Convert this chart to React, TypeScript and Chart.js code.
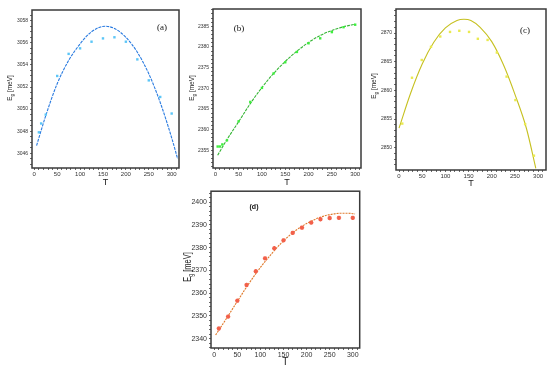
import React, { useEffect, useRef } from "react";
import { Chart, registerables } from "chart.js";

Chart.register(...registerables);

// ---- Data ----
const aT = [10, 15, 25, 50, 75, 100, 125, 150, 175, 200, 225, 250, 275, 300];
const aE = [3047.9, 3048.7, 3049.5, 3053.0, 3055.0, 3055.5, 3056.1, 3056.4, 3056.5, 3056.1, 3054.5, 3052.6, 3051.1, 3049.6];
const aFitT = [5, 25, 50, 75, 100, 125, 155, 175, 200, 225, 250, 275, 300, 313];
const aFitE = [3046.7, 3049.4, 3052.3, 3054.4, 3055.9, 3057.0, 3057.5, 3057.3, 3056.5, 3055.15, 3053.2, 3050.6, 3047.4, 3045.5];

const bT = [5, 10, 15, 25, 50, 75, 100, 125, 150, 175, 200, 225, 250, 275, 300];
const bE = [2355.9, 2355.9, 2356.4, 2357.4, 2362.0, 2366.7, 2370.1, 2373.6, 2376.3, 2378.8, 2380.9, 2382.1, 2383.6, 2384.8, 2385.4];
const bFitT = [5, 25, 50, 75, 100, 125, 150, 175, 200, 225, 250, 275, 300];
const bFitE = [2353.8, 2357.6, 2361.9, 2366.3, 2370.2, 2373.6, 2376.5, 2379.0, 2381.1, 2382.8, 2384.0, 2384.9, 2385.5];

const cT = [7, 28, 49, 69, 89, 110, 130, 151, 170, 191, 211, 232, 251, 272, 291];
const cE = [2854.2, 2862.2, 2865.3, 2867.6, 2869.4, 2870.2, 2870.4, 2870.2, 2869.0, 2868.8, 2866.6, 2862.4, 2858.3, 2854.1, 2848.6];
const cFitT = [0, 25, 50, 75, 100, 125, 140, 155, 175, 200, 225, 250, 275, 295];
const cFitE = [2853.4, 2859.5, 2864.6, 2868.4, 2870.9, 2872.2, 2872.4, 2872.2, 2871.0, 2868.5, 2864.5, 2859.3, 2853.3, 2846.4];

const dT = [10, 30, 50, 70, 90, 110, 130, 150, 170, 190, 210, 230, 250, 270, 300];
const dE = [2344.5, 2349.7, 2356.7, 2363.6, 2369.6, 2375.3, 2379.7, 2383.2, 2386.5, 2388.8, 2391.0, 2392.5, 2393.0, 2393.1, 2393.1];
const dFitT = [3, 25, 50, 75, 100, 125, 150, 175, 200, 225, 250, 275, 290, 305];
const dFitE = [2341.6, 2348.4, 2356.4, 2364.2, 2371.3, 2377.5, 2383.0, 2387.3, 2390.6, 2393.0, 2394.5, 2395.1, 2395.1, 2394.8];

const panelLabels = ["(a)", "(b)", "(c)", "(d)"];
const xTitle = "T";

type Panel = {
  label: string;
  T: number[]; E: number[]; fitT: number[]; fitE: number[];
  left: number; top: number; width: number; height: number;
  area: { l: number; r: number; t: number; b: number };
  xMin: number; xMax: number; yMin: number; yMax: number;
  yStep: number; yMajor: number;
  lineColor: string; pointColor: string; dash: number[];
  pointStyle: string; pointRadius: number;
  tickFont: number; xTickFont: number; titleFont: number; titleScale: number; xTitleFont: number;
  labelPos: [number, number]; labelFont: string;
  yTitleX: number; yTitleY: number; xTitleY: number;
};

const zip = (xs: number[], ys: number[]) => xs.map((x, i) => ({ x, y: ys[i] }));

const panels: Panel[] = [
  {
    label: panelLabels[0], T: aT, E: aE, fitT: aFitT, fitE: aFitE,
    left: 0, top: 0, width: 183, height: 190,
    area: { l: 32, r: 181, t: 10, b: 168 },
    xMin: -5, xMax: 316, yMin: 3044.67, yMax: 3058.97, yStep: 0.5, yMajor: 2,
    lineColor: "#2a7be0", pointColor: "#5cc6f7", dash: [3, 1],
    pointStyle: "rect", pointRadius: 1.7,
    tickFont: 5, xTickFont: 6, titleFont: 8, titleScale: 0.8, xTitleFont: 9,
    labelPos: [162, 28], labelFont: "9px 'Liberation Serif'",
    yTitleX: 10, yTitleY: 88, xTitleY: 183,
  },
  {
    label: panelLabels[1], T: bT, E: bE, fitT: bFitT, fitE: bFitE,
    left: 183, top: 0, width: 182, height: 190,
    area: { l: 30, r: 180, t: 9, b: 168 },
    xMin: -5, xMax: 312.5, yMin: 2350.7, yMax: 2389.2, yStep: 1, yMajor: 5,
    lineColor: "#35b535", pointColor: "#3def3d", dash: [3, 1],
    pointStyle: "rect", pointRadius: 1.7,
    tickFont: 5, xTickFont: 6, titleFont: 8, titleScale: 0.8, xTitleFont: 9,
    labelPos: [56, 29], labelFont: "9px 'Liberation Serif'",
    yTitleX: 9, yTitleY: 88, xTitleY: 183,
  },
  {
    label: panelLabels[2], T: cT, E: cE, fitT: cFitT, fitE: cFitE,
    left: 365, top: 0, width: 185, height: 190,
    area: { l: 31, r: 182, t: 9, b: 170 },
    xMin: -6.5, xMax: 317, yMin: 2846.1, yMax: 2874.2, yStep: 1, yMajor: 5,
    lineColor: "#c6c020", pointColor: "#eaea50", dash: [],
    pointStyle: "rect", pointRadius: 1.7,
    tickFont: 5, xTickFont: 6, titleFont: 8, titleScale: 0.8, xTitleFont: 9,
    labelPos: [160, 31], labelFont: "9px 'Liberation Serif'",
    yTitleX: 9, yTitleY: 86, xTitleY: 184,
  },
  {
    label: panelLabels[3], T: dT, E: dE, fitT: dFitT, fitE: dFitE,
    left: 180, top: 185, width: 185, height: 186,
    area: { l: 31, r: 181, t: 5, b: 163 },
    xMin: -7, xMax: 315, yMin: 2335.9, yMax: 2404.8, yStep: 2, yMajor: 10,
    lineColor: "#e07a2c", pointColor: "#f2604a", dash: [2, 1],
    pointStyle: "star", pointRadius: 2.2,
    tickFont: 7, xTickFont: 7, titleFont: 10, titleScale: 0.75, xTitleFont: 10,
    labelPos: [74, 22], labelFont: "bold 7px 'Liberation Sans'",
    yTitleX: 8, yTitleY: 82, xTitleY: 177,
  },
];

function isMultiple(v: number, step: number) {
  const r = Math.abs(v / step - Math.round(v / step));
  return r < 1e-6;
}

function makeConfig(p: Panel): any {
  const framePlugin = {
    id: "frame" + p.label,
    afterDraw(chart: any) {
      const ctx = chart.ctx;
      const a = chart.chartArea;
      ctx.save();
      ctx.strokeStyle = "#3a3a3a";
      ctx.lineWidth = 1.5;
      ctx.strokeRect(a.left, a.top, a.right - a.left, a.bottom - a.top);
      // panel label
      ctx.fillStyle = "#111";
      ctx.font = p.labelFont;
      ctx.textAlign = "center";
      ctx.textBaseline = "middle";
      ctx.fillText(p.label, p.labelPos[0], p.labelPos[1]);
      // x title
      ctx.font = `${p.xTitleFont}px 'Liberation Sans'`;
      ctx.fillStyle = "#222";
      ctx.fillText(xTitle, (a.left + a.right) / 2, p.xTitleY);
      // y title with subscript
      ctx.translate(p.yTitleX, p.yTitleY);
      ctx.rotate(-Math.PI / 2);
      ctx.scale(p.titleScale, 1);
      const big = `${p.titleFont}px 'Liberation Sans'`;
      const small = `${Math.round(p.titleFont * 0.7)}px 'Liberation Sans'`;
      ctx.textAlign = "left";
      ctx.font = big;
      const wE = ctx.measureText("E").width;
      const wRest = ctx.measureText(" [meV]").width;
      ctx.font = small;
      const wg = ctx.measureText("g").width;
      const total = wE + wg + wRest;
      let x = -total / 2;
      ctx.font = big;
      ctx.fillText("E", x, 0);
      x += wE;
      ctx.font = small;
      ctx.fillText("g", x, p.titleFont * 0.3);
      x += wg;
      ctx.font = big;
      ctx.fillText(" [meV]", x, 0);
      ctx.restore();
    },
  };

  const w = p.width;
  const h = p.height;
  return {
    type: "scatter",
    data: {
      datasets: [
        {
          data: zip(p.fitT, p.fitE),
          showLine: true,
          borderColor: p.lineColor,
          borderWidth: 1.1,
          borderDash: p.dash,
          pointRadius: 0,
          cubicInterpolationMode: "monotone",
          fill: false,
          order: 1,
        },
        {
          data: zip(p.T, p.E),
          showLine: false,
          pointStyle: p.pointStyle,
          pointRadius: p.pointRadius,
          backgroundColor: p.pointColor,
          borderColor: p.pointColor,
          borderWidth: p.pointStyle === "star" ? 1.3 : 0,
          order: 0,
        },
      ],
    },
    options: {
      animation: false,
      responsive: false,
      maintainAspectRatio: false,
      events: [],
      layout: {
        padding: { left: 0, top: p.area.t, right: w - p.area.r, bottom: 0 },
      },
      plugins: { legend: { display: false }, tooltip: { enabled: false } },
      scales: {
        x: {
          type: "linear",
          min: p.xMin,
          max: p.xMax,
          afterFit(scale: any) { scale.height = h - p.area.b; },
          grid: { drawOnChartArea: false, drawTicks: true, tickLength: 2, color: "#444", lineWidth: 0.8 },
          border: { display: false },
          ticks: {
            stepSize: 10,
            includeBounds: false,
            autoSkip: false,
            maxRotation: 0,
            padding: 1,
            color: "#333",
            font: { family: "'Liberation Sans'", size: p.xTickFont },
            callback: (v: number) => (isMultiple(v, 50) ? String(Math.round(v)) : ""),
          },
        },
        y: {
          type: "linear",
          min: p.yMin,
          max: p.yMax,
          afterFit(scale: any) { scale.width = p.area.l; },
          grid: { drawOnChartArea: false, drawTicks: true, tickLength: 2, color: "#444", lineWidth: 0.8 },
          border: { display: false },
          ticks: {
            stepSize: p.yStep,
            includeBounds: false,
            autoSkip: false,
            padding: 2,
            color: "#333",
            font: { family: "'Liberation Sans'", size: p.tickFont },
            callback: (v: number) => (isMultiple(v, p.yMajor) ? String(Math.round(v)) : ""),
          },
        },
      },
    },
    plugins: [framePlugin],
  };
}

function PanelChart({ p }: { p: Panel }) {
  const ref = useRef<HTMLCanvasElement | null>(null);
  useEffect(() => {
    if (!ref.current) return;
    const chart = new Chart(ref.current, makeConfig(p));
    return () => chart.destroy();
  }, [p]);
  return (
    <canvas
      ref={ref}
      width={p.width}
      height={p.height}
      style={{ position: "absolute", left: p.left, top: p.top, width: p.width, height: p.height }}
    />
  );
}

export default function App() {
  return (
    <div style={{ position: "fixed", left: 0, top: 0, width: 550, height: 371, background: "#fff", overflow: "hidden" }}>
      {panels.map((p) => (
        <PanelChart key={p.label} p={p} />
      ))}
    </div>
  );
}
